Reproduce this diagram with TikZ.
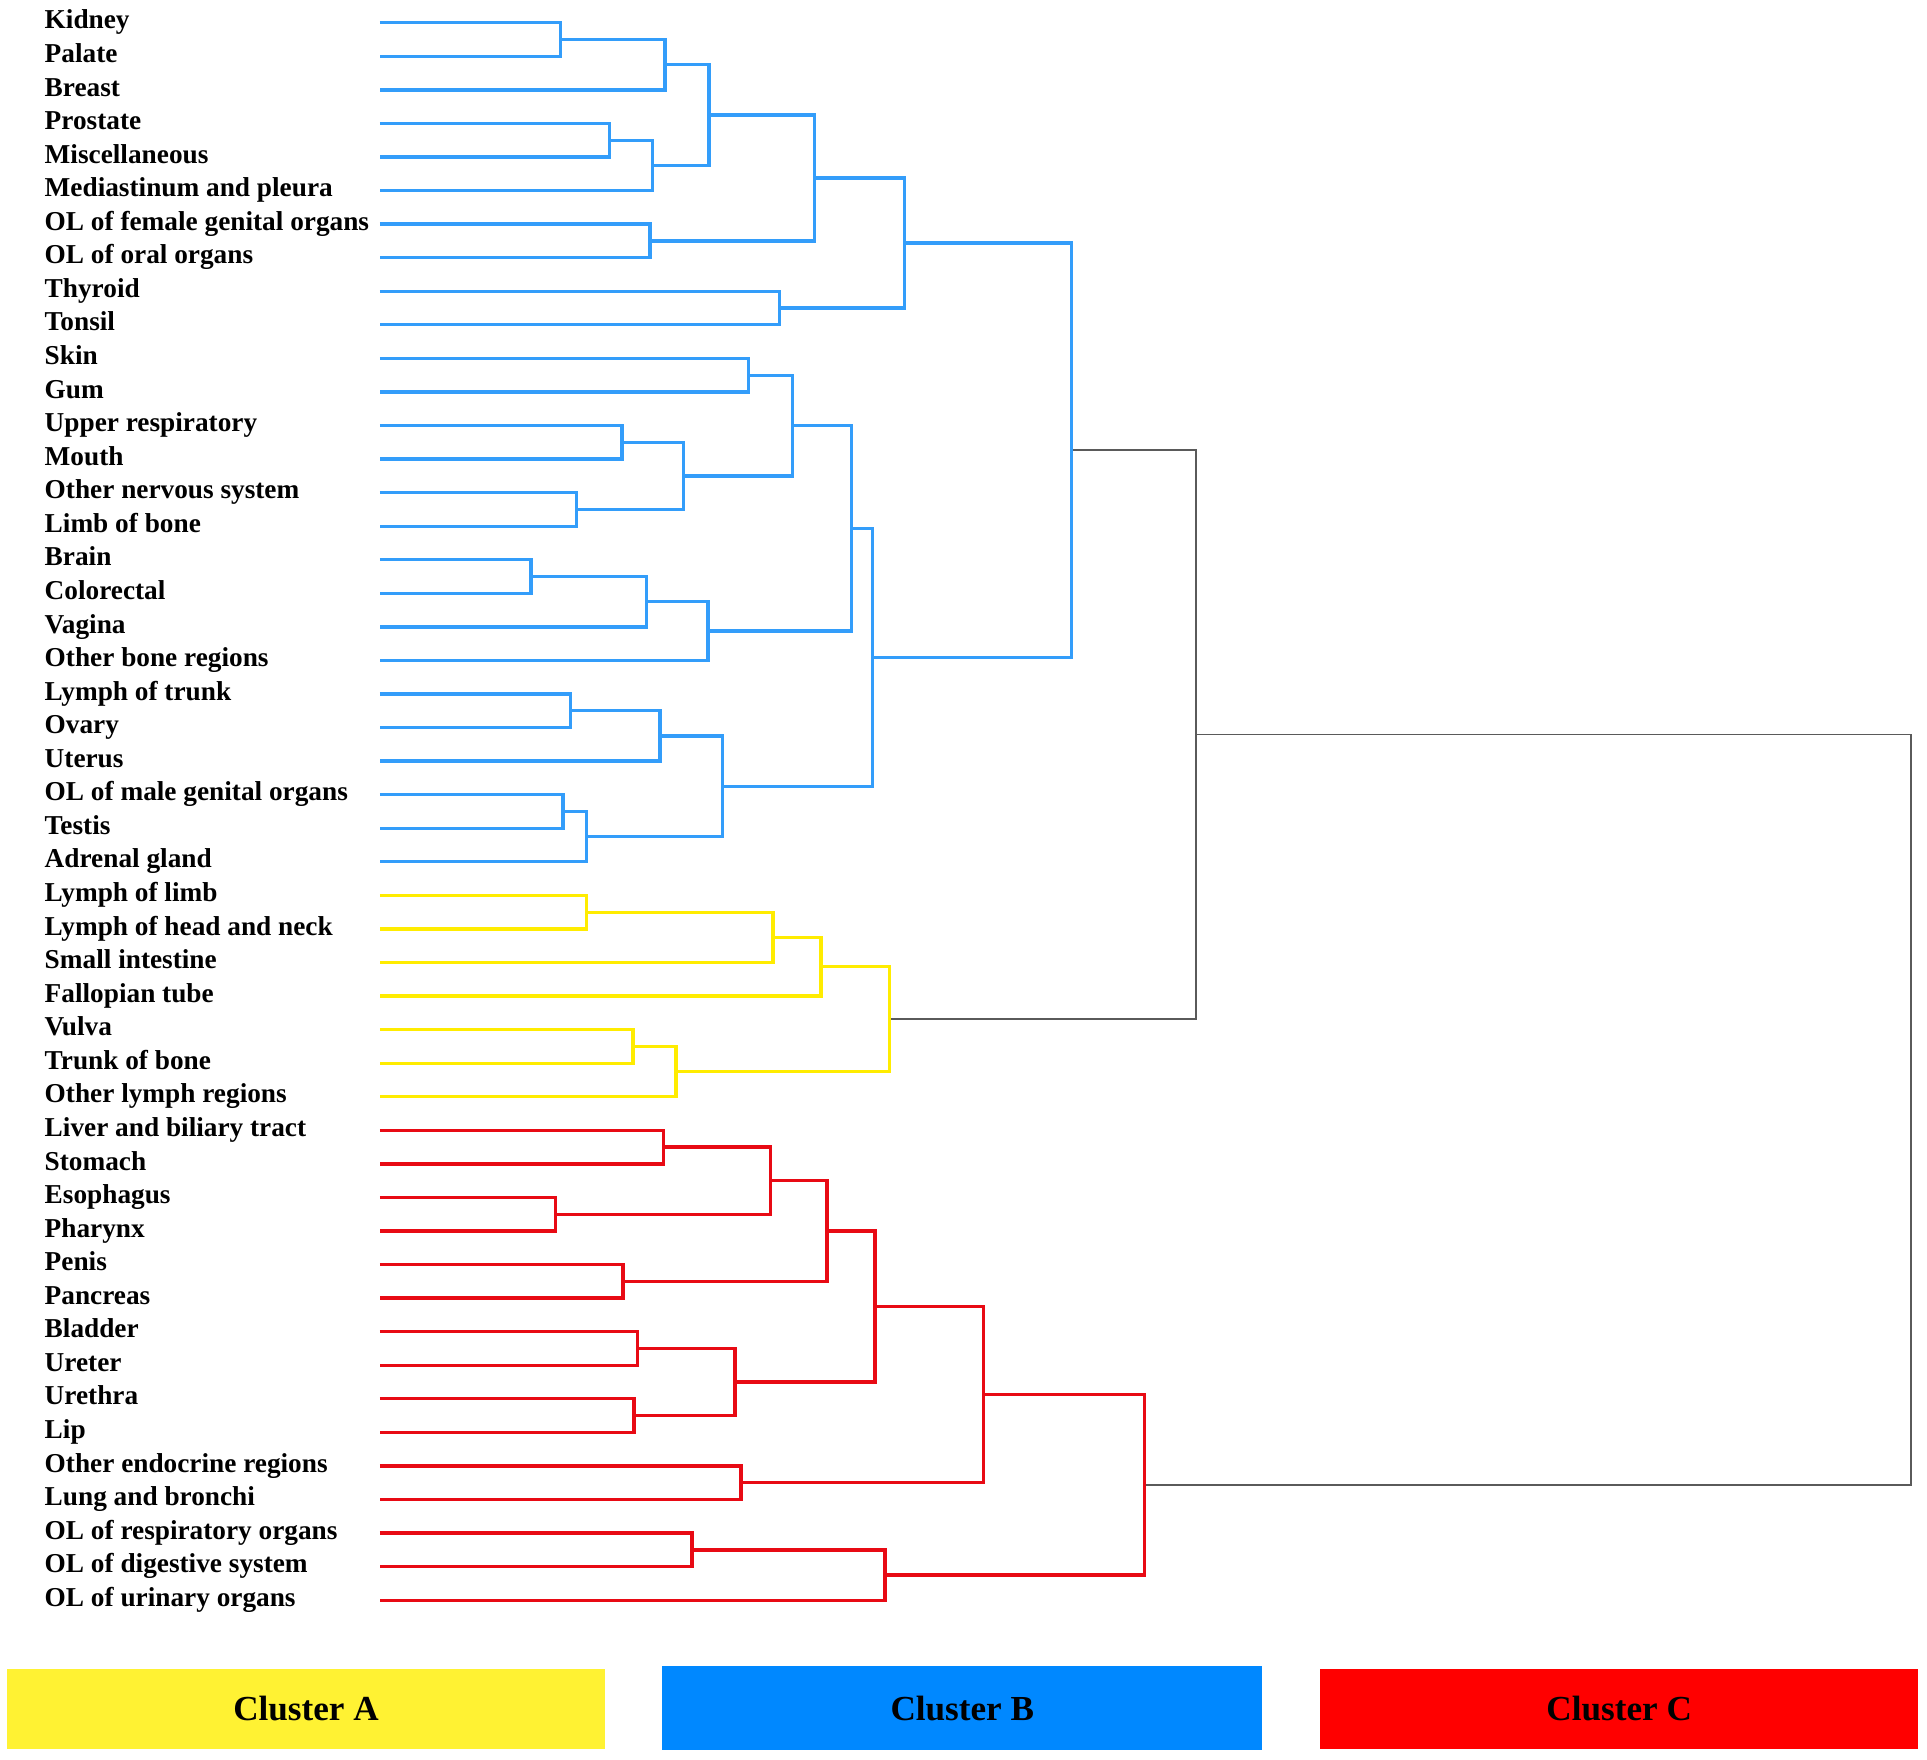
\documentclass[tikz,border=0pt]{standalone}
\usepackage{fontspec}
\setmainfont{Liberation Serif}
\usetikzlibrary{calc}
\definecolor{cblue}{RGB}{51,157,250}
\definecolor{cyel}{RGB}{255,236,0}
\definecolor{cred}{RGB}{232,10,20}
\definecolor{cgray}{RGB}{90,90,90}
\definecolor{boxA}{RGB}{255,242,51}
\definecolor{boxB}{RGB}{0,136,255}
\definecolor{boxC}{RGB}{255,0,0}
\newcommand\mrg[5]{%
  \coordinate (#1m) at ($(#3)!0.5!(#4)$);
  \coordinate (#1) at (#1m -| #5,0);
  \draw[#2] (#3) -| (#1) |- (#4);
}
\tikzset{
  lab/.style={anchor=base west, inner sep=0pt, font=\fontsize{11.1}{13}\selectfont\bfseries},
  bl/.style={draw=cblue, line width=1.35pt},
  yl/.style={draw=cyel, line width=1.35pt},
  rl/.style={draw=cred, line width=1.35pt},
  gl/.style={draw=cgray, line width=0.6pt},
  cbox/.style={fill=#1, inner sep=0pt, font=\fontsize{14.3}{17}\selectfont\bfseries}
}
\begin{document}
\begin{tikzpicture}[x=0.5pt, y=-0.5pt]
\useasboundingbox (0,0) rectangle (1568,1432);
\foreach \t [count=\i from 0] in {Kidney, Palate, Breast, Prostate, Miscellaneous, Mediastinum and pleura, OL of female genital organs, OL of oral organs, Thyroid, Tonsil, Skin, Gum, Upper respiratory, Mouth, Other nervous system, Limb of bone, Brain, Colorectal, Vagina, Other bone regions, Lymph of trunk, Ovary, Uterus, OL of male genital organs, Testis, Adrenal gland, Lymph of limb, Lymph of head and neck, Small intestine, Fallopian tube, Vulva, Trunk of bone, Other lymph regions, Liver and biliary tract, Stomach, Esophagus, Pharynx, Penis, Pancreas, Bladder, Ureter, Urethra, Lip, Other endocrine regions, Lung and bronchi, OL of respiratory organs, OL of digestive system, OL of urinary organs} {
  \coordinate (l\i) at (309, {18.5+27.31*\i});
  \node[lab] (t\i) at (36, {18.5+27.31*\i+5}) {\t};
}
% blue cluster
\mrg{b1}{bl}{l0}{l1}{456}
\mrg{b2}{bl}{b1}{l2}{541}
\mrg{b3}{bl}{l3}{l4}{496}
\mrg{b4}{bl}{b3}{l5}{531}
\mrg{b5}{bl}{b2}{b4}{577}
\mrg{b6}{bl}{l6}{l7}{529}
\mrg{b7}{bl}{b5}{b6}{663}
\mrg{b8}{bl}{l8}{l9}{634}
\mrg{b9}{bl}{b7}{b8}{736}
\mrg{b10}{bl}{l10}{l11}{609}
\mrg{b11}{bl}{l12}{l13}{506}
\mrg{b12}{bl}{l14}{l15}{469}
\mrg{b13}{bl}{b11}{b12}{556}
\mrg{b14}{bl}{b10}{b13}{645}
\mrg{b15}{bl}{l16}{l17}{432}
\mrg{b16}{bl}{b15}{l18}{526}
\mrg{b17}{bl}{b16}{l19}{576}
\mrg{b18}{bl}{b14}{b17}{693}
\mrg{b19}{bl}{l20}{l21}{464}
\mrg{b20}{bl}{b19}{l22}{537}
\mrg{b21}{bl}{l23}{l24}{458}
\mrg{b22}{bl}{b21}{l25}{477}
\mrg{b23}{bl}{b20}{b22}{588}
\mrg{b24}{bl}{b18}{b23}{710}
% yellow cluster
\mrg{y1}{yl}{l26}{l27}{477}
\mrg{y2}{yl}{y1}{l28}{629}
\mrg{y3}{yl}{y2}{l29}{668}
\mrg{y4}{yl}{l30}{l31}{515}
\mrg{y5}{yl}{y4}{l32}{550}
% red cluster
\mrg{r1}{rl}{l33}{l34}{540}
\mrg{r2}{rl}{l35}{l36}{452}
\mrg{r3}{rl}{r1}{r2}{627}
\mrg{r4}{rl}{l37}{l38}{507}
\mrg{r5}{rl}{r3}{r4}{673}
\mrg{r6}{rl}{l39}{l40}{519}
\mrg{r7}{rl}{l41}{l42}{516}
\mrg{r8}{rl}{r6}{r7}{598}
\mrg{r9}{rl}{r5}{r8}{712}
\mrg{r10}{rl}{l43}{l44}{603}
\mrg{r11}{rl}{r9}{r10}{800}
\mrg{r12}{rl}{l45}{l46}{563}
\mrg{r13}{rl}{r12}{l47}{720}
% top-level joins (gray drawn before final colored verticals)
\coordinate (b25m) at ($(b9)!0.5!(b24)$);
\coordinate (b25) at (b25m -| 872,0);
\coordinate (y6m) at ($(y3)!0.5!(y5)$);
\coordinate (y6) at (y6m -| 724,0);
\coordinate (r14m) at ($(r11)!0.5!(r13)$);
\coordinate (r14) at (r14m -| 931,0);
\mrg{g1}{gl}{b25}{y6}{973}
\mrg{g2}{gl}{g1}{r14}{1555}
\draw[bl] (b9) -| (b25) |- (b24);
\draw[yl] (y3) -| (y6) |- (y5);
\draw[rl] (r11) -| (r14) |- (r13);
% legend boxes
\node[cbox=boxA, minimum width=243pt, minimum height=32.5pt] (cA) at (249,1390.5) {Cluster A};
\node[cbox=boxB, minimum width=244pt, minimum height=34pt] (cB) at (783,1390) {Cluster B};
\node[cbox=boxC, minimum width=243.5pt, minimum height=32.5pt] (cC) at (1317.5,1390.5) {Cluster C};
\end{tikzpicture}
\end{document}
